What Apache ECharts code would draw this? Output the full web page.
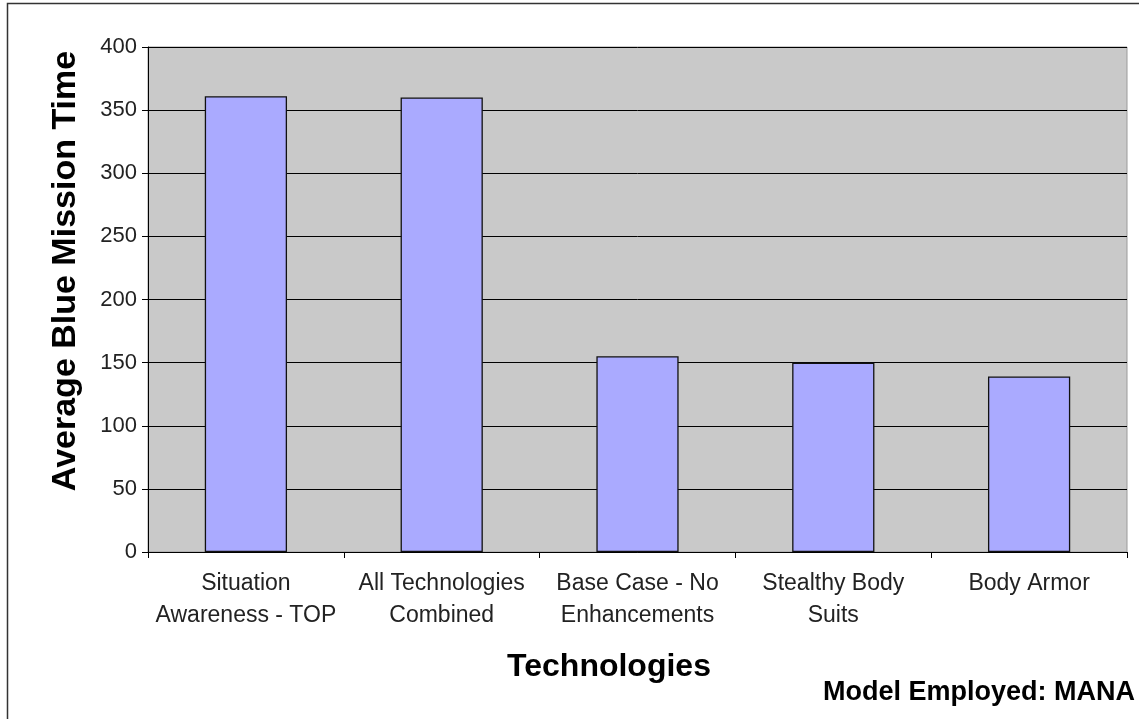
<!DOCTYPE html>
<html>
<head>
<meta charset="utf-8">
<script src="https://cdn.jsdelivr.net/npm/echarts@6/dist/echarts.min.js"></script>
<style>html,body{margin:0;padding:0;background:#fff;}#c{width:1139px;height:719px;}</style>
</head>
<body>
<div id="c"></div>
<script>
var categories = ["Situation\nAwareness - TOP", "All Technologies\nCombined", "Base Case - No\nEnhancements", "Stealthy Body\nSuits", "Body Armor"];
var missionTime = [361, 360, 155, 150, 139];
var yTicks = {min: 0, max: 400, interval: 50};
var yTitle = "Average Blue Mission Time";
var xTitle = "Technologies";
var note = "Model Employed: MANA";

var FONT = "'Liberation Sans', Arial, sans-serif";
var chart = echarts.init(document.getElementById('c'), null, {renderer: 'canvas'});
chart.setOption({
  animation: false,
  backgroundColor: '#ffffff',
  grid: {left: 148, top: 47, right: 12, bottom: 167, show: true, backgroundColor: '#c9c9c9', borderColor: '#9a9a9a', borderWidth: 1},
  xAxis: {
    type: 'category', data: categories,
    axisLine: {lineStyle: {color: '#000', width: 1}},
    axisTick: {show: true, length: 6, lineStyle: {color: '#000'}},
    axisLabel: {color: '#222', fontFamily: FONT, fontSize: 23, lineHeight: 32, margin: 16, interval: 0}
  },
  yAxis: {
    type: 'value', min: yTicks.min, max: yTicks.max, interval: yTicks.interval,
    axisLine: {show: true, lineStyle: {color: '#000', width: 1}},
    axisTick: {show: true, length: 6, lineStyle: {color: '#000'}},
    axisLabel: {color: '#222', fontFamily: FONT, fontSize: 22, margin: 11},
    splitLine: {show: true, lineStyle: {color: '#000', width: 1}}
  },
  series: [{
    type: 'bar', data: missionTime, barCategoryGap: '58%',
    itemStyle: {color: '#aaaaff', borderColor: '#111', borderWidth: 1.3}
  }],
  graphic: [
    {type: 'rect', shape: {x: 7.5, y: 3.5, width: 1200, height: 800}, style: {fill: 'none', stroke: '#333', lineWidth: 1.5}, silent: true},
    {type: 'text', x: 66, y: 271, rotation: Math.PI / 2, style: {text: yTitle, fontFamily: FONT, fontSize: 34, fontWeight: 'bold', fill: '#000', textAlign: 'center', textVerticalAlign: 'middle'}},
    {type: 'text', x: 609, y: 667, style: {text: xTitle, fontFamily: FONT, fontSize: 32, fontWeight: 'bold', fill: '#000', textAlign: 'center', textVerticalAlign: 'middle'}},
    {type: 'text', x: 1135, y: 693, style: {text: note, fontFamily: FONT, fontSize: 27, fontWeight: 'bold', fill: '#000', textAlign: 'right', textVerticalAlign: 'middle'}}
  ]
});
</script>
</body>
</html>
